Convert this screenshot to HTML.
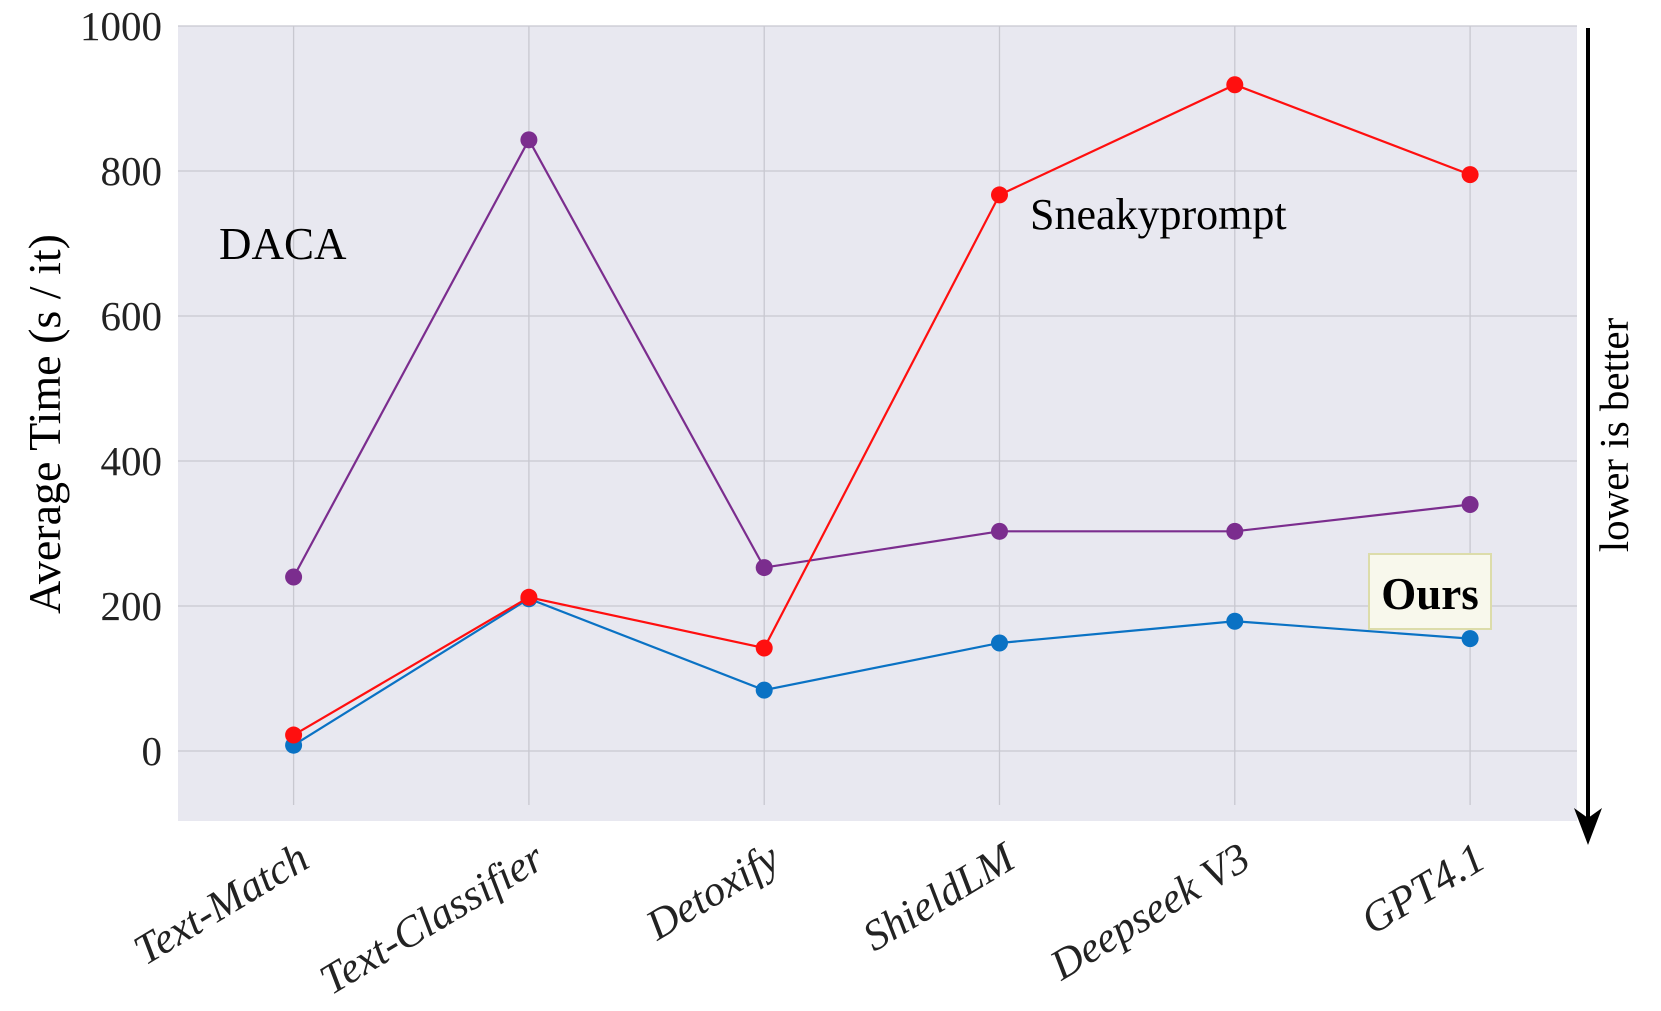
<!DOCTYPE html>
<html><head><meta charset="utf-8"><style>
body{margin:0;background:#fff;}
text{font-family:"Liberation Serif",serif;}
</style></head><body>
<svg id="chart" width="1661" height="1006" viewBox="0 0 1661 1006" xmlns="http://www.w3.org/2000/svg">
<rect x="178" y="26" width="1399" height="795" fill="#e8e8f0"/>
<g id="grid"></g>
<g id="series"></g>
<g id="labels"></g>
<text x="0" y="0" transform="translate(60,424) rotate(-90)" text-anchor="middle" font-size="46" fill="#000">Average Time (s / it)</text>
<text x="219" y="259" font-size="45" fill="#000">DACA</text>
<text x="1030" y="229" font-size="44" fill="#000">Sneakyprompt</text>
<rect x="1369" y="554" width="122" height="75" fill="#f8f8ec" stroke="#dcdcaa" stroke-width="2"/>
<text x="1430" y="609" text-anchor="middle" font-size="45" font-weight="bold" fill="#000">Ours</text>
<line x1="1588" y1="28" x2="1588" y2="830" stroke="#000" stroke-width="4"/>
<path d="M1574,808 L1588,845 L1602,808 L1588,818 Z" fill="#000"/>
<text x="0" y="0" transform="translate(1628,435) rotate(-90)" text-anchor="middle" font-size="41" fill="#000">lower is better</text>
</svg>
<script>
const categories=["Text-Match","Text-Classifier","Detoxify","ShieldLM","Deepseek V3","GPT4.1"];
const dacaValues=[240,843,253,303,303,340];
const sneakyValues=[22,212,142,767,919,795];
const oursValues=[8,210,84,149,179,155];
const yTicks=[0,200,400,600,800,1000];
const NS="http://www.w3.org/2000/svg";
function xPos(i){return 293.6+i*235.3;}
function yPos(v){return 751-v*0.725;}
function mk(tag,attrs,parent){const e=document.createElementNS(NS,tag);for(const k in attrs)e.setAttribute(k,attrs[k]);parent.appendChild(e);return e;}
const grid=document.getElementById('grid'),series=document.getElementById('series'),labels=document.getElementById('labels');
yTicks.forEach(t=>{
  const l=mk('line',{x1:178,x2:1577,y1:yPos(t),y2:yPos(t),stroke:'#c8c8d0','stroke-width':1.3},grid);
  
  
  const tx=mk('text',{x:162,y:yPos(t)+14,'text-anchor':'end','font-size':41,fill:'#222'},labels);
  tx.textContent=t;
  
  
});
categories.forEach((c,i)=>{
  const l=mk('line',{x1:xPos(i),x2:xPos(i),y1:26,y2:805,stroke:'#c8c8d0','stroke-width':1.3},grid);
  
  
  const tx=mk('text',{x:0,y:0,transform:`translate(${xPos(i)+18},866) rotate(-31)`,'text-anchor':'end','font-size':43,'font-style':'italic',fill:'#222'},labels);
  tx.textContent=c;
  
  
});
function drawSeries(vals,color,name){
  const p=mk('polyline',{points:vals.map((v,i)=>xPos(i)+','+yPos(v)).join(' '),fill:'none',stroke:color,'stroke-width':2.2},series);
  
  
  vals.forEach((v,i)=>{
    const c=mk('circle',{cx:xPos(i),cy:yPos(v),r:8.5,fill:color},series);
    
    
  });
}
drawSeries(dacaValues,'#7b2d8e','daca');
drawSeries(oursValues,'#0a72c4','ours');
drawSeries(sneakyValues,'#ff0f0f','sneakyprompt');
</script>
</body></html>
